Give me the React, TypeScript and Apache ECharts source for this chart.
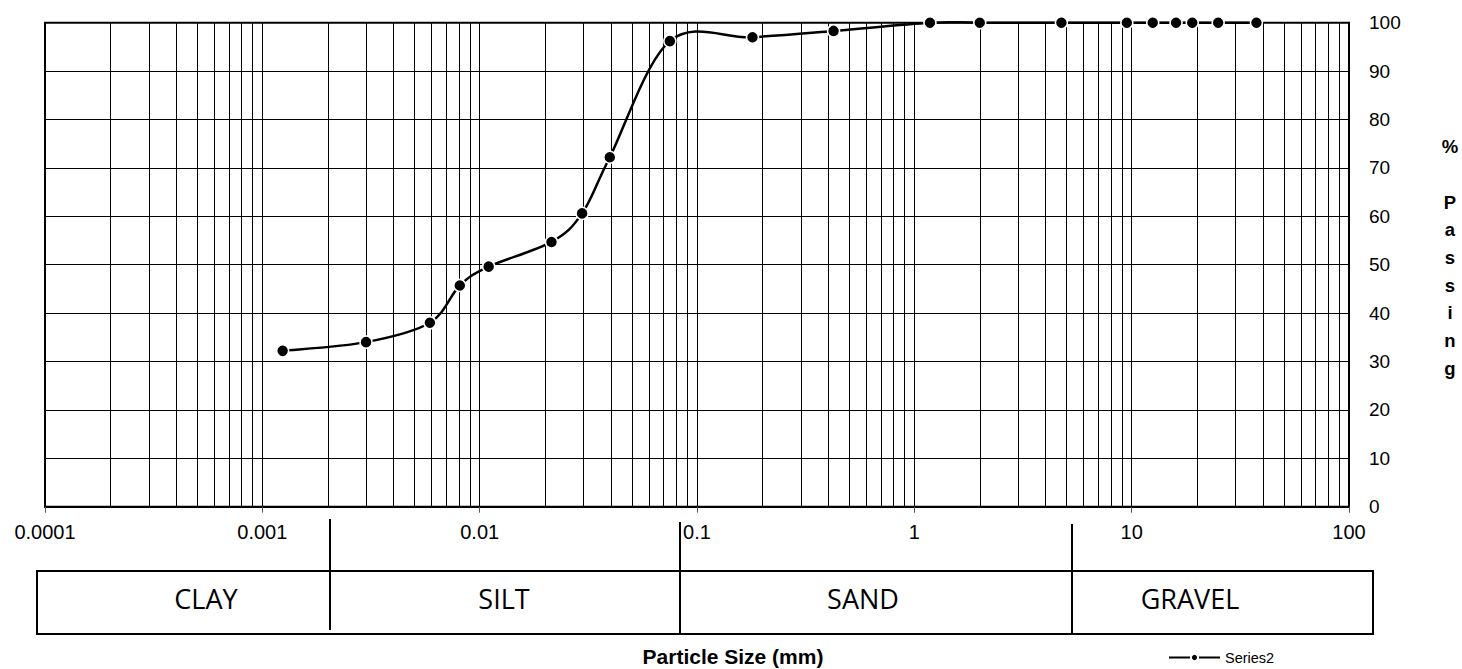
import React, { useEffect, useRef } from "react";
import * as echarts from "echarts";

// Particle size (mm) and percent passing
const PARTICLE_SIZE_MM = [
  0.00124, 0.003, 0.0059, 0.0081, 0.011, 0.0214, 0.0296, 0.0397, 0.075, 0.18,
  0.425, 1.18, 2.0, 4.75, 9.5, 12.5, 16, 19, 25, 37.5,
];
const PERCENT_PASSING = [
  32.2, 34.0, 38.0, 45.7, 49.6, 54.7, 60.6, 72.2, 96.2, 97.0, 98.3, 100, 100,
  100, 100, 100, 100, 100, 100, 100,
];
const SERIES_NAME = "Series2";

const X_TICK_LABELS = ["0.0001", "0.001", "0.01", "0.1", "1", "10", "100"];
const X_MIN = 0.0001;
const X_MAX = 100;
const DECADES = [0.0001, 0.001, 0.01, 0.1, 1, 10];
const MINOR_MULTIPLIERS = [2, 3, 4, 5, 6, 7, 8, 9];

const Y_MIN = 0;
const Y_MAX = 100;
const Y_INTERVAL = 10;

const SOIL_ZONES = ["CLAY", "SILT", "SAND", "GRAVEL"];
const X_TITLE = "Particle Size (mm)";
const Y_TITLE_LETTERS = ["%", "", "P", "a", "s", "s", "i", "n", "g"];

export default function App() {
  const ref = useRef<HTMLDivElement>(null);

  useEffect(() => {
    if (!ref.current) return;
    const chart = echarts.init(ref.current, null, { renderer: "svg" });

    const minorLines: number[][] = [];
    DECADES.forEach((d) => {
      MINOR_MULTIPLIERS.forEach((m) => {
        minorLines.push([+(d * m).toPrecision(6), 0]);
      });
    });

    const seriesData = PARTICLE_SIZE_MM.map((x, i) => [x, PERCENT_PASSING[i]]);

    // zone box layout (annotation shapes)
    const boxLeft = 37;
    const boxRight = 1373;
    const boxTop = 571;
    const boxBottom = 634;
    const dividers = [
      { x: 330, y1: 519, y2: 630 },
      { x: 680, y1: 522, y2: 635 },
      { x: 1072, y1: 524, y2: 635 },
    ];
    const zoneCenters = [206, 504, 863, 1190];
    const zoneFont = '"Open Sans", "Noto Sans", sans-serif';

    const graphics: any[] = [
      {
        type: "rect",
        shape: { x: boxLeft, y: boxTop, width: boxRight - boxLeft, height: boxBottom - boxTop },
        style: { fill: "none", stroke: "#000", lineWidth: 2 },
        silent: true,
      },
      ...dividers.map((d) => ({
        type: "line",
        shape: { x1: d.x, y1: d.y1, x2: d.x, y2: d.y2 },
        style: { stroke: "#000", lineWidth: 2 },
        silent: true,
      })),
      ...SOIL_ZONES.map((z, i) => ({
        type: "text",
        x: zoneCenters[i],
        y: 598,
        style: {
          text: z,
          fill: "#000",
          font: `27px ${zoneFont}`,
          align: "center",
          verticalAlign: "middle",
        },
        silent: true,
      })),
      {
        type: "text",
        x: 733,
        y: 656,
        style: {
          text: X_TITLE,
          fill: "#000",
          font: 'bold 21px "Liberation Sans", Arial, sans-serif',
          align: "center",
          verticalAlign: "middle",
        },
        silent: true,
      },
      {
        type: "text",
        x: 1450,
        y: 133,
        style: {
          text: Y_TITLE_LETTERS.join("\n"),
          fill: "#000",
          fontSize: 18.5,
          fontWeight: "bold",
          fontFamily: '"Liberation Sans", Arial, sans-serif',
          lineHeight: 27.66,
          align: "center",
          verticalAlign: "top",
        },
        silent: true,
      },
    ];

    chart.setOption({
      animation: false,
      backgroundColor: "#fff",
      textStyle: { fontFamily: '"Liberation Sans", Arial, sans-serif', color: "#000" },
      grid: {
        left: 45,
        top: 22.7,
        width: 1304,
        height: 484,
        show: true,
        borderColor: "#000",
        borderWidth: 2,
        backgroundColor: "transparent",
      },
      legend: {
        data: [SERIES_NAME],
        left: 1163,
        top: 645,
        itemWidth: 51,
        itemHeight: 9,
        itemGap: 6,
        textStyle: { fontSize: 14.5, color: "#000", fontFamily: '"Liberation Sans", Arial, sans-serif' },
        lineStyle: { width: 2, color: "#000", opacity: 1 },
      },
      xAxis: {
        type: "log",
        logBase: 10,
        min: X_MIN,
        max: X_MAX,
        axisLine: { show: true, lineStyle: { color: "#000", width: 2 } },
        axisTick: { show: true, length: 6, lineStyle: { color: "#555", width: 1 } },
        axisLabel: {
          show: true,
          fontSize: 20,
          color: "#000",
          margin: 15,
          formatter: (v: number) => {
            const idx = Math.round(Math.log10(v)) + 4;
            return X_TICK_LABELS[idx] ?? "";
          },
        },
        splitLine: { show: true, lineStyle: { color: "#000", width: 1 } },
      },
      yAxis: {
        type: "value",
        position: "right",
        min: Y_MIN,
        max: Y_MAX,
        interval: Y_INTERVAL,
        axisLine: { show: true, lineStyle: { color: "#000", width: 2 } },
        axisTick: { show: false },
        axisLabel: { fontSize: 19, color: "#000", margin: 20 },
        splitLine: { show: true, lineStyle: { color: "#000", width: 1 } },
      },
      series: [
        {
          type: "custom",
          name: "minorGrid",
          silent: true,
          z: 1,
          data: minorLines,
          encode: { x: 0, y: 1 },
          renderItem: (_params: any, api: any) => {
            const v = api.value(0);
            const top = api.coord([v, Y_MAX]);
            const bottom = api.coord([v, Y_MIN]);
            const x = Math.round(top[0]) + 0.5;
            return {
              type: "line",
              shape: { x1: x, y1: top[1], x2: x, y2: bottom[1] },
              style: { stroke: "#000", lineWidth: 1 },
              silent: true,
            };
          },
        },
        {
          // Excel-style smoothed curve (Catmull-Rom through data points)
          type: "custom",
          name: "curve",
          silent: true,
          z: 4,
          clip: false,
          data: seriesData,
          encode: { x: 0, y: 1 },
          renderItem: (params: any, api: any) => {
            if (params.dataIndex !== 0) return null;
            const pts = seriesData.map((d) => api.coord(d));
            const n = pts.length;
            let d = `M${pts[0][0]},${pts[0][1]}`;
            for (let i = 0; i < n - 1; i++) {
              const p0 = pts[Math.max(0, i - 1)];
              const p1 = pts[i];
              const p2 = pts[i + 1];
              const p3 = pts[Math.min(n - 1, i + 2)];
              const c1x = p1[0] + (p2[0] - p0[0]) / 6;
              const c1y = p1[1] + (p2[1] - p0[1]) / 6;
              const c2x = p2[0] - (p3[0] - p1[0]) / 6;
              const c2y = p2[1] - (p3[1] - p1[1]) / 6;
              d += ` C${c1x},${c1y} ${c2x},${c2y} ${p2[0]},${p2[1]}`;
            }
            return {
              type: "path",
              shape: { pathData: d },
              style: { stroke: "#000", lineWidth: 2.5, fill: "none" },
              silent: true,
            };
          },
        },
        {
          type: "line",
          name: SERIES_NAME,
          data: seriesData,
          symbol: "circle",
          symbolSize: 12,
          z: 5,
          lineStyle: { color: "#000", width: 2.5, opacity: 0 },
          itemStyle: { color: "#000", borderColor: "#fff", borderWidth: 1.5 },
        },
      ],
      graphic: graphics,
    });

    return () => chart.dispose();
  }, []);

  return (
    <div
      ref={ref}
      style={{ position: "fixed", left: 0, top: 0, width: 1462, height: 669, background: "#fff" }}
    />
  );
}
